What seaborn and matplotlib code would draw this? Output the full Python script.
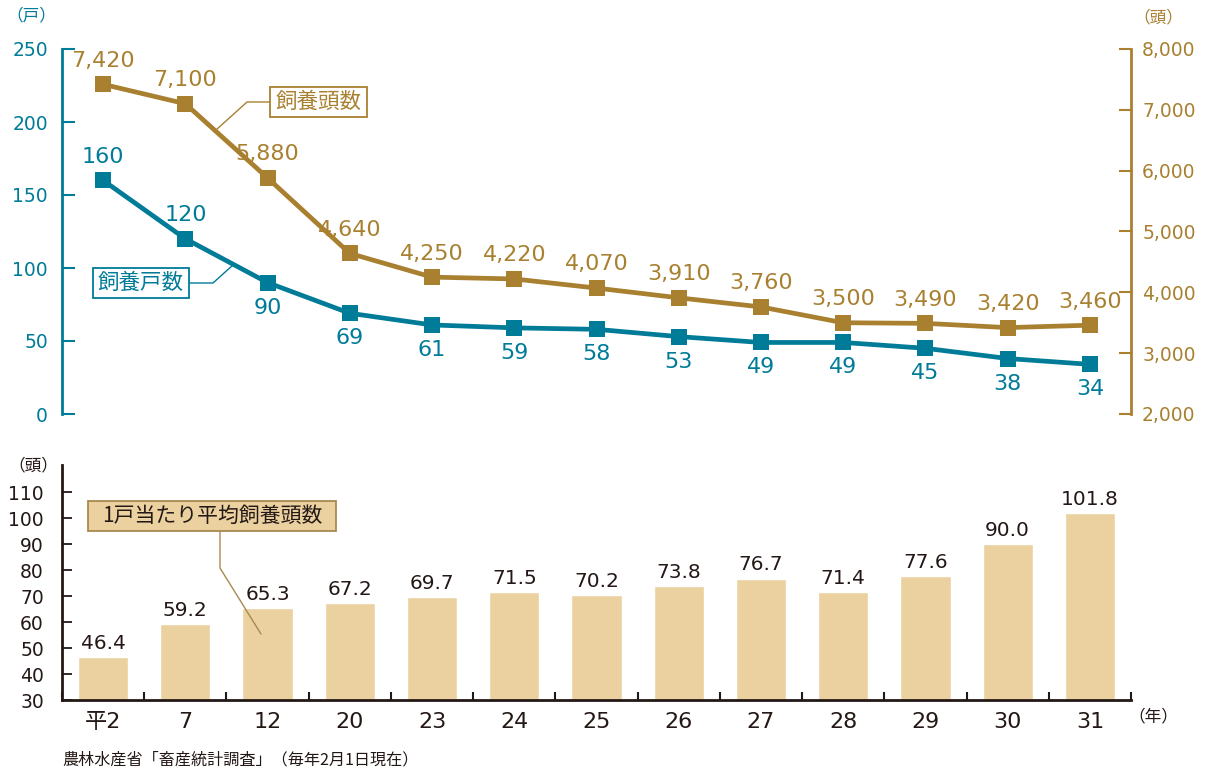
import numpy as np
import pandas as pd
import matplotlib
matplotlib.use("Agg")
import matplotlib.pyplot as plt
from matplotlib.patches import Rectangle
import seaborn as sns

years = ["平2", "7", "12", "20", "23", "24", "25", "26", "27", "28", "29", "30", "31"]
households = [160, 120, 90, 69, 61, 59, 58, 53, 49, 49, 45, 38, 34]
heads = [7420, 7100, 5880, 4640, 4250, 4220, 4070, 3910, 3760, 3500, 3490, 3420, 3460]
per_household = [46.4, 59.2, 65.3, 67.2, 69.7, 71.5, 70.2, 73.8, 76.7, 71.4, 77.6, 90.0, 101.8]
left_ticks = [0, 50, 100, 150, 200, 250]
right_ticks = [2000, 3000, 4000, 5000, 6000, 7000, 8000]
bar_ticks = [30, 40, 50, 60, 70, 80, 90, 100, 110]

sns.set_style("white")
plt.rcParams['font.family'] = ['DejaVu Sans', 'Noto Sans CJK JP']

TEAL = "#007B98"
GOLD = "#A88030"
BAR = "#EBD1A0"
DARK = "#231815"
BOXEDGE = "#A88A50"
JP = ['Noto Sans CJK JP', 'DejaVu Sans']

df = pd.DataFrame({"pos": np.arange(len(years)), "year": years,
                   "households": households, "heads": heads, "per": per_household})

fig = plt.figure(figsize=(12.08, 7.72), dpi=100)
W, H = 1208, 772
def rect(x0, y0, x1, y1):
    return [x0 / W, 1 - y1 / H, (x1 - x0) / W, (y1 - y0) / H]

def box(x0, y0, x1, y1, fc, ec):
    fig.add_artist(Rectangle((x0 / W, 1 - y1 / H), (x1 - x0) / W, (y1 - y0) / H,
                             transform=fig.transFigure, fc=fc, ec=ec, lw=1.3, zorder=5))

# ---------- top chart ----------
ax = fig.add_axes(rect(62, 49, 1131, 414))
ax2 = ax.twinx()
sns.lineplot(data=df, x="pos", y="households", ax=ax, color=TEAL, lw=3.4,
             marker="s", markersize=12, markeredgewidth=0, zorder=3)
sns.lineplot(data=df, x="pos", y="heads", ax=ax2, color=GOLD, lw=3.4,
             marker="s", markersize=12, markeredgewidth=0, zorder=3)
ax.set_xlim(-0.5, len(years) - 0.5)
ax.set_ylim(0, 250)
ax2.set_ylim(2000, 8000)
ax.set_yticks(left_ticks)
ax2.set_yticks(right_ticks)
ax2.set_yticklabels([f"{v:,}" for v in right_ticks])
ax.set_xticks([])
for a in (ax, ax2):
    a.set_xlabel("")
    a.set_ylabel("")
    for s in a.spines.values():
        s.set_visible(False)
ax.spines['left'].set_visible(True)
ax.spines['left'].set_color(TEAL)
ax.spines['left'].set_linewidth(2)
ax2.spines['right'].set_visible(True)
ax2.spines['right'].set_color(GOLD)
ax2.spines['right'].set_linewidth(2)
ax.tick_params(axis='y', direction='in', length=9, width=1.5, color=TEAL,
               labelcolor=TEAL, labelsize=13.5, pad=10, left=True)
ax2.tick_params(axis='y', direction='in', length=9, width=1.5, color=GOLD,
                labelcolor=GOLD, labelsize=13.5, pad=8, right=True)

for i, v in enumerate(heads):
    ax2.annotate(f"{v:,}", (i, v), xytext=(0, 17), textcoords="offset points",
                 ha="center", va="center", color=GOLD, fontsize=16)
for i, v in enumerate(households):
    off = 17 if i < 2 else -18
    ax.annotate(f"{v}", (i, v), xytext=(0, off), textcoords="offset points",
                ha="center", va="center", color=TEAL, fontsize=16)

# callouts top
box(270, 87, 367, 117, "white", GOLD)
fig.text(318.5 / W, 1 - 102 / H, "飼養頭数", ha="center", va="center", color=GOLD,
         fontsize=15.5, family=JP, zorder=6)
fig.add_artist(plt.Line2D([270 / W, 247 / W, 216 / W],
                          [1 - 102 / H, 1 - 102 / H, 1 - 130 / H], color=GOLD, lw=1))
box(93, 268, 189, 298, "white", TEAL)
fig.text(141 / W, 1 - 283 / H, "飼養戸数", ha="center", va="center", color=TEAL,
         fontsize=15.5, family=JP, zorder=6)
fig.add_artist(plt.Line2D([189 / W, 213 / W, 233 / W],
                          [1 - 283 / H, 1 - 283 / H, 1 - 265 / H], color=TEAL, lw=1))

fig.text(31 / W, 1 - 16 / H, "（戸）", ha="center", va="center", color=TEAL, fontsize=12,
         family=JP)
fig.text(1158 / W, 1 - 18 / H, "（頭）", ha="center", va="center", color=GOLD, fontsize=12,
         family=JP)

# ---------- bottom chart ----------
bx = fig.add_axes(rect(62, 465, 1131, 700))
sns.barplot(data=df, x="year", y="per", ax=bx, color=BAR, saturation=1,
            width=0.61, order=years)
bx.set_xlim(-0.5, len(years) - 0.5)
bx.set_ylim(30, 30 + (700 - 465) / 2.6)
bx.set_yticks(bar_ticks)
bx.set_xlabel("")
bx.set_ylabel("")
for s in ('top', 'right'):
    bx.spines[s].set_visible(False)
for s in ('left', 'bottom'):
    bx.spines[s].set_color(DARK)
    bx.spines[s].set_linewidth(2)
bx.tick_params(axis='y', direction='in', length=7, width=1.3, color=DARK,
               labelcolor=DARK, labelsize=13.5, pad=13, left=True)
bx.set_xticks(np.arange(-0.5, len(years), 1.0), minor=True)
bx.tick_params(axis='x', which='minor', direction='in', length=6, width=1.5,
               color=DARK, bottom=True)
bx.tick_params(axis='x', which='major', length=0, labelsize=16, labelcolor=DARK, pad=9)
for lab in bx.get_xticklabels():
    lab.set_family(['DejaVu Sans', 'Noto Sans CJK JP'])
for i, v in enumerate(per_household):
    bx.annotate(f"{v:.1f}", (i, v), xytext=(0, 3), textcoords="offset points",
                ha="center", va="bottom", color=DARK, fontsize=14.5)

box(88, 501, 336, 531, BAR, BOXEDGE)
fig.text(212 / W, 1 - 516 / H, "1戸当たり平均飼養頭数", ha="center", va="center", color=DARK,
         fontsize=15, family=JP, zorder=6)
fig.add_artist(plt.Line2D([220 / W, 220 / W, 261 / W],
                          [1 - 531 / H, 1 - 568 / H, 1 - 634 / H], color=BOXEDGE, lw=1))

fig.text(33 / W, 1 - 466 / H, "（頭）", ha="center", va="center", color=DARK, fontsize=12,
         family=JP)
fig.text(1153 / W, 1 - 717 / H, "（年）", ha="center", va="center", color=DARK, fontsize=12,
         family=JP)
fig.text(62 / W, 1 - 760 / H, "農林水産省「畜産統計調査」（毎年2月1日現在）", ha="left", va="center",
         color=DARK, fontsize=11.6, family=JP)

fig.savefig("out.png", dpi=100)
